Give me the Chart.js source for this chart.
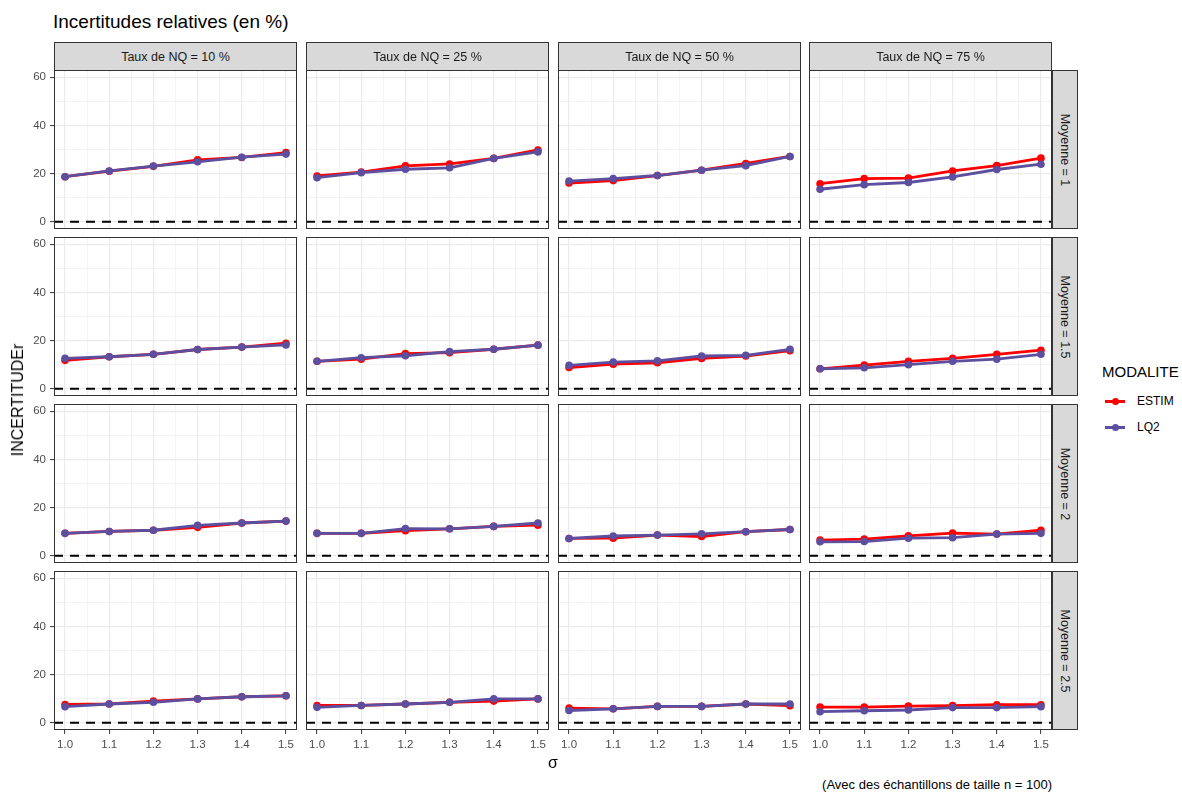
<!DOCTYPE html>
<html><head><meta charset="utf-8">
<script src="https://cdn.jsdelivr.net/npm/chart.js@4.4.1/dist/chart.umd.min.js"></script>
<style>
body{margin:0;background:#fff;width:1182px;height:794px;overflow:hidden;font-family:"Liberation Sans",Arial,sans-serif;}
#root{position:relative;width:1182px;height:794px;}
canvas{position:absolute;}
.txt{position:absolute;white-space:nowrap;line-height:1;}
.strip{position:absolute;background:#D9D9D9;border:1px solid #333;box-sizing:border-box;color:#1A1A1A;font-size:12.5px;display:flex;align-items:center;justify-content:center;white-space:nowrap;}
.vtext{transform:rotate(90deg);display:inline-block;}
.key{position:absolute;height:3px;}
.dot{position:absolute;width:7px;height:7px;border-radius:50%;}
</style></head><body><div id="root"></div>
<script>
// ---- data ----
const sigma = [1.0, 1.1, 1.2, 1.3, 1.4, 1.5];
const nqLabels = ['Taux de NQ = 10 %', 'Taux de NQ = 25 %', 'Taux de NQ = 50 %', 'Taux de NQ = 75 %'];
const moyLabels = ['Moyenne = 1', 'Moyenne = 1.5', 'Moyenne = 2', 'Moyenne = 2.5'];
const seriesNames = ['ESTIM', 'LQ2'];

// one inner array per NQ column (10, 25, 50, 75 %)
const estimMoy1  = [[18.7,21.0,23.0,25.7,26.7,28.7],[19.0,20.6,23.2,24.0,26.3,29.8],[16.1,17.1,19.2,21.4,24.2,27.1],[15.8,17.9,18.1,21.1,23.3,26.4]];
const lq2Moy1    = [[18.7,21.1,23.1,24.9,26.8,28.1],[18.3,20.4,21.8,22.4,26.3,29.0],[16.9,17.9,19.2,21.4,23.3,27.1],[13.5,15.4,16.3,18.6,21.7,23.9]];
const estimMoy15 = [[11.8,13.3,14.3,16.3,17.3,18.9],[11.4,12.3,14.6,15.0,16.4,18.1],[8.8,10.2,10.8,12.6,13.6,15.8],[8.3,9.8,11.4,12.6,14.3,16.0]];
const lq2Moy15   = [[12.6,13.3,14.3,16.3,17.3,18.2],[11.4,12.9,13.7,15.4,16.4,18.1],[9.7,11.1,11.6,13.6,13.9,16.4],[8.3,8.7,10.0,11.4,12.3,14.3]];
const estimMoy2  = [[9.3,10.1,10.6,11.8,13.6,14.4],[9.3,9.3,10.4,11.2,12.2,12.7],[7.2,7.3,8.6,8.0,10.0,10.9],[6.5,6.9,8.3,9.4,9.0,10.6]];
const lq2Moy2    = [[9.3,10.1,10.6,12.6,13.6,14.4],[9.3,9.3,11.3,11.2,12.2,13.6],[7.2,8.2,8.6,9.1,10.0,10.9],[5.8,5.9,7.3,7.5,9.0,9.3]];
const estimMoy25 = [[7.6,7.8,9.0,9.9,10.8,11.2],[7.2,7.2,7.8,8.5,9.0,9.9],[6.1,5.8,6.8,6.8,7.8,7.1],[6.5,6.5,6.9,7.1,7.5,7.5]];
const lq2Moy25   = [[6.7,7.8,8.5,9.9,10.8,11.2],[6.4,7.2,7.8,8.5,9.9,9.9],[5.1,5.8,6.8,6.8,7.8,7.8],[4.6,5.0,5.3,6.3,6.3,6.7]];

const estimRows = [estimMoy1, estimMoy15, estimMoy2, estimMoy25];
const lq2Rows = [lq2Moy1, lq2Moy15, lq2Moy2, lq2Moy25];

const xTicks = [1.0, 1.1, 1.2, 1.3, 1.4, 1.5];
const xMinor = [1.05, 1.15, 1.25, 1.35, 1.45];
const yTicks = [0, 20, 40, 60];
const yMinor = [10, 30, 50];
const REF_VALUE = 0;

// ---- style / layout ----
const RED = '#FF0000', PURPLE = '#5D4F9F';
const FONT = '"Liberation Sans", Arial, sans-serif';
const X_MIN = 0.975, X_MAX = 1.525, Y_MIN = -3, Y_MAX = 63;
const colX = [54, 306, 558, 809], PW = 243;
const rowY = [70, 237, 404, 571], PH = 159;
const LEFT_W = 42, BOTTOM_H = 32;

const root = document.getElementById('root');
function addText(t, css, cls) {
  const d = document.createElement('div');
  d.className = cls || 'txt';
  d.textContent = t;
  Object.assign(d.style, css);
  root.appendChild(d);
  return d;
}
const near = (list, v) => list.some(m => Math.abs(m - v) < 1e-9);
function noPad(s) { s.paddingTop = 0; s.paddingBottom = 0; s.paddingLeft = 0; s.paddingRight = 0; }

const borderPlugin = {
  id: 'panelBorder',
  afterDraw(chart) {
    const a = chart.chartArea, c = chart.ctx;
    c.save();
    c.strokeStyle = '#333333'; c.lineWidth = 1;
    c.strokeRect(Math.round(a.left) + 0.5, Math.round(a.top) + 0.5, Math.round(a.right - a.left) - 1, Math.round(a.bottom - a.top) - 1);
    c.restore();
  }
};
const refPlugin = {
  id: 'refLine',
  beforeDatasetsDraw(chart) {
    const a = chart.chartArea, c = chart.ctx;
    const y = chart.scales.y.getPixelForValue(REF_VALUE);
    c.save();
    c.beginPath(); c.rect(a.left, a.top, a.right - a.left, a.bottom - a.top); c.clip();
    c.setLineDash([9, 7]); c.lineWidth = 2.2; c.strokeStyle = '#000';
    c.beginPath(); c.moveTo(a.left, y); c.lineTo(a.right, y); c.stroke();
    c.restore();
  }
};

function ds(label, vals, color) {
  return {
    label, data: sigma.map((s, i) => ({ x: s, y: vals[i] })),
    borderColor: color, backgroundColor: color, pointBackgroundColor: color,
    borderWidth: 2.8, pointRadius: 3.8, pointBorderWidth: 0, tension: 0
  };
}

for (let r = 0; r < 4; r++) {
  for (let c = 0; c < 4; c++) {
    const left = c === 0, bottom = r === 3;
    const cv = document.createElement('canvas');
    const w = PW + (left ? LEFT_W : 0), h = PH + (bottom ? BOTTOM_H : 0);
    cv.width = w; cv.height = h;
    cv.style.left = (colX[c] - (left ? LEFT_W : 0)) + 'px';
    cv.style.top = rowY[r] + 'px';
    cv.style.width = w + 'px'; cv.style.height = h + 'px';
    root.appendChild(cv);
    new Chart(cv, {
      type: 'line',
      data: { datasets: [ds(seriesNames[1], lq2Rows[r][c], PURPLE), ds(seriesNames[0], estimRows[r][c], RED)] },
      options: {
        responsive: false, animation: false, events: [],
        devicePixelRatio: 1,
        layout: { padding: 0, autoPadding: false },
        plugins: { legend: { display: false }, tooltip: { enabled: false } },
        scales: {
          x: {
            type: 'linear', min: X_MIN, max: X_MAX,
            afterBuildTicks: s => { s.ticks = xTicks.concat(xMinor).sort((a, b) => a - b).map(v => ({ value: v })); },
            afterFit: s => { s.height = bottom ? BOTTOM_H : 0; noPad(s); },
            ticks: { display: bottom, autoSkip: false, maxRotation: 0, padding: 4, color: '#4D4D4D', font: { size: 11.5, family: FONT },
              callback: v => near(xTicks, v) ? v.toFixed(1) : '' },
            grid: { color: '#EBEBEB', lineWidth: ctx => near(xTicks, ctx.tick.value) ? 1.2 : 0.6,
              drawTicks: bottom, tickLength: 4, tickWidth: 1,
              tickColor: ctx => near(xTicks, ctx.tick.value) ? '#333333' : 'rgba(0,0,0,0)' },
            border: { display: false }
          },
          y: {
            type: 'linear', min: Y_MIN, max: Y_MAX,
            afterBuildTicks: s => { s.ticks = yTicks.concat(yMinor).sort((a, b) => a - b).map(v => ({ value: v })); },
            afterFit: s => { s.width = left ? LEFT_W : 0; noPad(s); },
            ticks: { display: left, autoSkip: false, padding: 4, color: '#4D4D4D', font: { size: 11.5, family: FONT },
              callback: v => near(yTicks, v) ? String(v) : '' },
            grid: { color: '#EBEBEB', lineWidth: ctx => near(yTicks, ctx.tick.value) ? 1.2 : 0.6,
              drawTicks: left, tickLength: 4, tickWidth: 1,
              tickColor: ctx => near(yTicks, ctx.tick.value) ? '#333333' : 'rgba(0,0,0,0)' },
            border: { display: false }
          }
        }
      },
      plugins: [refPlugin, borderPlugin]
    });
  }
}

// strips
nqLabels.forEach((t, c) => {
  addText(t, { left: colX[c] + 'px', top: '42px', width: PW + 'px', height: '29px' }, 'strip');
});
moyLabels.forEach((t, r) => {
  const d = addText('', { left: (colX[3] + PW) + 'px', top: rowY[r] + 'px', width: '26px', height: PH + 'px' }, 'strip');
  const s = document.createElement('span'); s.className = 'vtext'; s.textContent = t; d.appendChild(s);
});

// titles
addText('Incertitudes relatives (en %)', { left: '53px', top: '12px', fontSize: '19px', color: '#000' });
addText('INCERTITUDEr', { left: '18px', top: '400px', fontSize: '16px', color: '#000', transform: 'translate(-50%,-50%) rotate(-90deg)' });
addText('σ', { left: '553px', top: '763px', fontSize: '16px', color: '#000', transform: 'translate(-50%,-50%)' });
addText('(Avec des échantillons de taille n = 100)', { right: (1182 - 1052) + 'px', top: '778px', fontSize: '13px', color: '#000' });

// legend
addText('MODALITE', { left: '1102px', top: '364px', fontSize: '15px', color: '#000' });
[[seriesNames[0], RED, 401], [seriesNames[1], PURPLE, 427]].forEach(([name, col, y]) => {
  const k = document.createElement('div'); k.className = 'key';
  Object.assign(k.style, { left: '1105px', top: (y - 1.5) + 'px', width: '20px', background: col });
  root.appendChild(k);
  const d = document.createElement('div'); d.className = 'dot';
  Object.assign(d.style, { left: '1111.5px', top: (y - 3.5) + 'px', background: col });
  root.appendChild(d);
  addText(name, { left: '1137px', top: (y - 6) + 'px', fontSize: '12px', color: '#000' });
});
</script>
</body></html>
